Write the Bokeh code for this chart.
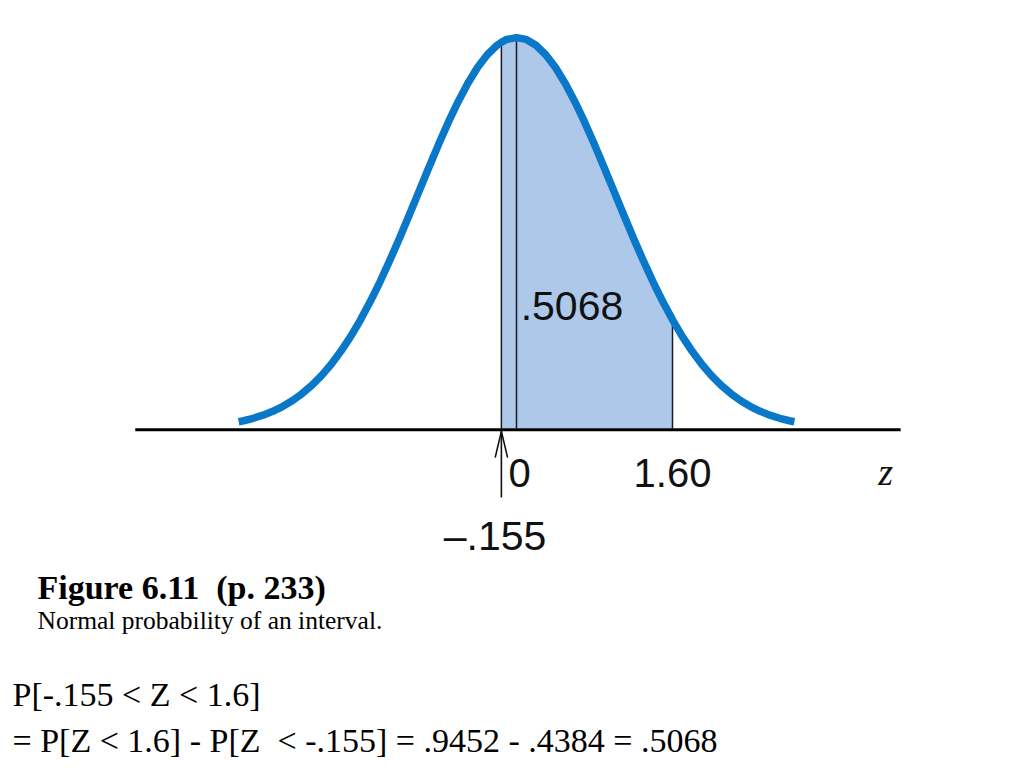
from bokeh.plotting import figure
from bokeh.models import Range1d
from bokeh.core.properties import value
from bokeh.embed import file_html
from bokeh.resources import INLINE

# standard normal curve heights read along z
z_vals = [-2.85, -2.8, -2.7, -2.6, -2.5, -2.4, -2.3, -2.2, -2.1, -2.0, -1.9, -1.8, -1.7, -1.6,
          -1.5, -1.4, -1.3, -1.2, -1.1, -1.0, -0.9, -0.8, -0.7, -0.6, -0.5, -0.4, -0.3, -0.2,
          -0.155, -0.1, 0.0, 0.1, 0.2, 0.3, 0.4, 0.5, 0.6, 0.7, 0.8, 0.9, 1.0, 1.1, 1.2, 1.3,
          1.4, 1.5, 1.6, 1.7, 1.8, 1.9, 2.0, 2.1, 2.2, 2.3, 2.4, 2.5, 2.6, 2.7, 2.8, 2.85]
density = [0.0069, 0.0079, 0.0104, 0.0136, 0.0175, 0.0224, 0.0283, 0.0355, 0.0440, 0.0540,
           0.0656, 0.0790, 0.0940, 0.1109, 0.1295, 0.1497, 0.1714, 0.1942, 0.2179, 0.2420,
           0.2661, 0.2897, 0.3123, 0.3332, 0.3521, 0.3683, 0.3814, 0.3910, 0.3941, 0.3970,
           0.3989, 0.3970, 0.3910, 0.3814, 0.3683, 0.3521, 0.3332, 0.3123, 0.2897, 0.2661,
           0.2420, 0.2179, 0.1942, 0.1714, 0.1497, 0.1295, 0.1109, 0.0940, 0.0790, 0.0656,
           0.0540, 0.0440, 0.0355, 0.0283, 0.0224, 0.0175, 0.0136, 0.0104, 0.0079, 0.0069]

z_low = -0.155
z_high = 1.60
marker_z = [-0.155, 0.0, 1.60]
area_label = ".5068"
tick_labels = ["0", "1.60"]
tick_pos = [0.0, 1.60]
axis_span = [-3.91, 3.94]

NB = "\u00a0"
caption_title = "Figure 6.11 " + NB + "(p. 233)"
caption_sub = "Normal probability of an interval."
eq_line1 = "P[-.155 < Z < 1.6]"
eq_line2 = "= P[Z < 1.6] - P[Z " + NB + "< -.155] = .9452 - .4384 = .5068"

CURVE = "#0a78c8"
FILL = "#adc8e9"
INK = "#111111"

p = figure(width=1016, height=760, x_range=Range1d(-5.2923, 5.1282),
           y_range=Range1d(-0.33878, 0.43673), min_border=0,
           toolbar_location=None, output_backend="svg")
p.axis.visible = False
p.grid.visible = False
p.outline_line_color = None
p.background_fill_color = "white"

# shaded interval
sx = [z for z in z_vals if z_low <= z <= z_high]
sy = [d for z, d in zip(z_vals, density) if z_low <= z <= z_high]
p.varea(x=sx, y1=[0] * len(sx), y2=sy, fill_color=FILL)

# vertical lines
lookup = dict(zip(z_vals, density))
p.segment(x0=marker_z, y0=[0] * 3, x1=marker_z, y1=[lookup[m] for m in marker_z],
          line_color="#1a1a2a", line_width=1.5)

# curve
p.line(z_vals, density, line_color=CURVE, line_width=7.5, line_cap="butt")

# baseline axis
p.line(axis_span, [-0.0012, -0.0012], line_color="black", line_width=3)

# arrow pointing up to -.155 (shaft plus a narrow open head)
tip_y = -0.003
p.segment(x0=[z_low], y0=[-0.0704], x1=[z_low], y1=[tip_y], line_color=INK, line_width=1.6)
p.segment(x0=[z_low, z_low], y0=[tip_y, tip_y],
          x1=[z_low - 0.062, z_low + 0.062], y1=[tip_y - 0.026, tip_y - 0.026],
          line_color=INK, line_width=1.6, line_cap="round")

sans = value("Liberation Sans")
p.text(x=tick_pos, y=[-0.0459, -0.0459], text=tick_labels, text_font=sans,
       text_font_size="40px", text_align="center", text_baseline="alphabetic",
       text_color=INK, x_offset=[3, 0])
p.text(x=[0.569], y=[0.1255], text=[area_label], text_font=sans, text_font_size="41px",
       text_align="center", text_baseline="alphabetic", text_color=INK)
p.text(x=[-0.2205], y=[-0.1092], text=["\u2013.155"], text_font=sans, text_font_size="41px",
       text_align="center", text_baseline="alphabetic", text_color=INK)
p.text(x=[3.785], y=[-0.0449], text=["z"], text_font=value("Liberation Serif"),
       text_font_size="38px", text_font_style="italic", text_align="center",
       text_baseline="alphabetic", text_color=INK)

serif = value("Liberation Serif")
p.text(x=[-4.913], y=[-0.1622], text=[caption_title], text_font=serif,
       text_font_size="34px", text_font_style="bold", text_baseline="alphabetic",
       text_color="black")
p.text(x=[-4.913], y=[-0.1959], text=[caption_sub], text_font=serif,
       text_font_size="25.5px", text_baseline="alphabetic", text_color="black")
p.text(x=[-5.169, -5.169], y=[-0.2714, -0.3184], text=[eq_line1, eq_line2], text_font=serif,
       text_font_size="34px", text_baseline="alphabetic", text_color="black")

open("out.html", "w").write(file_html(p, INLINE))
